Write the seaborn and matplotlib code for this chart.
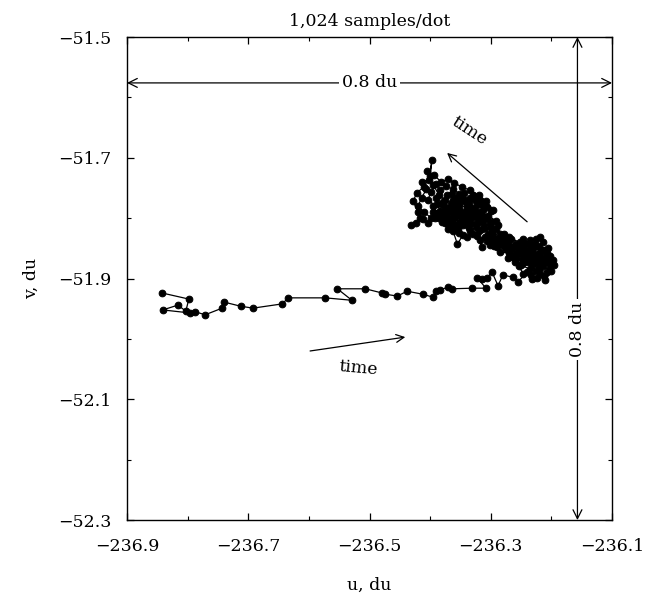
import matplotlib
matplotlib.use("Agg")
import matplotlib.pyplot as plt
import seaborn as sns
import pandas as pd
import numpy as np
from matplotlib.ticker import MultipleLocator, FuncFormatter

# ---- data (du) ----
track_u = [-236.842, -236.798, -236.803, -236.816, -236.841, -236.796, -236.788, -236.771,
           -236.743, -236.740, -236.712, -236.692, -236.644, -236.634, -236.573, -236.529,
           -236.553, -236.507, -236.479, -236.474, -236.454, -236.438, -236.412, -236.395,
           -236.390, -236.384, -236.370, -236.364, -236.331, -236.308, -236.322, -236.314,
           -236.306, -236.298, -236.288, -236.280, -236.263]
track_v = [-51.924, -51.934, -51.954, -51.944, -51.952, -51.957, -51.955, -51.960,
           -51.949, -51.939, -51.946, -51.949, -51.942, -51.932, -51.932, -51.936,
           -51.917, -51.917, -51.924, -51.926, -51.929, -51.921, -51.926, -51.931,
           -51.921, -51.919, -51.914, -51.917, -51.916, -51.916, -51.899, -51.901,
           -51.899, -51.889, -51.912, -51.894, -51.898]

cluster_u = [-236.255, -236.240, -236.232, -236.218, -236.210, -236.200, -236.214, -236.225,
             -236.238, -236.222, -236.205, -236.196, -236.203, -236.218, -236.232, -236.248,
             -236.240, -236.228, -236.214, -236.225, -236.240, -236.255, -236.262, -236.250,
             -236.236, -236.215, -236.208, -236.222, -236.244, -236.258, -236.246, -236.232,
             -236.219, -236.236, -236.252, -236.266, -236.272, -236.260,
             -236.300, -236.290, -236.280, -236.272, -236.262, -236.252, -236.266, -236.278,
             -236.286, -236.296, -236.306, -236.294, -236.284, -236.270, -236.258, -236.246,
             -236.232, -236.220, -236.208, -236.202, -236.212, -236.226, -236.238, -236.228,
             -236.216, -236.204, -236.214, -236.226, -236.236, -236.248, -236.242, -236.254,
             -236.246, -236.234, -236.224, -236.212, -236.198, -236.206, -236.220, -236.232,
             -236.244, -236.256, -236.268, -236.280, -236.292,
             -236.275, -236.282, -236.270, -236.285, -236.296, -236.290, -236.302, -236.310,
             -236.298, -236.288, -236.300, -236.314, -236.322, -236.314, -236.318, -236.305,
             -236.292, -236.278,
             -236.310, -236.322, -236.334, -236.346, -236.338, -236.326, -236.312, -236.300,
             -236.308, -236.322, -236.336, -236.350, -236.360, -236.352, -236.342, -236.330,
             -236.318, -236.330, -236.344, -236.356, -236.366, -236.356, -236.344, -236.336,
             -236.326, -236.340, -236.354, -236.346, -236.355, -236.362, -236.370, -236.362,
             -236.374, -236.368, -236.378, -236.372, -236.362, -236.352, -236.340, -236.328,
             -236.316, -236.306, -236.318, -236.332, -236.348, -236.358, -236.372, -236.384,
             -236.380, -236.390, -236.384, -236.374, -236.390, -236.398, -236.404,
             -236.345, -236.335, -236.324, -236.312, -236.300, -236.292, -236.304, -236.296,
             -236.308, -236.320, -236.334, -236.348, -236.360, -236.370, -236.382, -236.394,
             -236.405, -236.395, -236.385, -236.376, -236.364, -236.354, -236.340, -236.350,
             -236.364, -236.376, -236.388, -236.396, -236.386, -236.376, -236.364, -236.352,
             -236.340, -236.330, -236.320, -236.310, -236.302, -236.314, -236.326, -236.338,
             -236.332, -236.344, -236.356, -236.366, -236.378, -236.370, -236.358, -236.346,
             -236.334, -236.322, -236.312, -236.324, -236.336, -236.350, -236.362,
             -236.396, -236.388, -236.398, -236.410, -236.420, -236.414, -236.406, -236.414,
             -236.402, -236.397, -236.400, -236.410, -236.422, -236.428, -236.420, -236.412,
             -236.424, -236.432, -236.416, -236.404, -236.392, -236.380, -236.370]
cluster_v = [-51.905, -51.890, -51.900, -51.893, -51.902, -51.888, -51.880, -51.887,
             -51.872, -51.866, -51.872, -51.878, -51.863, -51.857, -51.862, -51.868,
             -51.855, -51.848, -51.840, -51.834, -51.843, -51.850, -51.862, -51.878,
             -51.884, -51.870, -51.858, -51.876, -51.860, -51.842, -51.835, -51.845,
             -51.832, -51.852, -51.858, -51.852, -51.866, -51.873,
             -51.830, -51.836, -51.844, -51.840, -51.846, -51.840, -51.834, -51.826,
             -51.834, -51.828, -51.838, -51.846, -51.856, -51.858, -51.866, -51.874,
             -51.878, -51.884, -51.890, -51.880, -51.866, -51.860, -51.864, -51.872,
             -51.877, -51.868, -51.852, -51.844, -51.836, -51.846, -51.868, -51.880,
             -51.892, -51.894, -51.899, -51.896, -51.870, -51.850, -51.848, -51.856,
             -51.852, -51.858, -51.848, -51.838, -51.842,
             -51.850, -51.840, -51.832, -51.826, -51.838, -51.848, -51.844, -51.832,
             -51.822, -51.812, -51.806, -51.818, -51.830, -51.848, -51.836, -51.826,
             -51.818, -51.836,
             -51.800, -51.790, -51.800, -51.790, -51.778, -51.770, -51.778, -51.788,
             -51.798, -51.808, -51.816, -51.808, -51.798, -51.782, -51.770, -51.762,
             -51.770, -51.784, -51.796, -51.788, -51.776, -51.766, -51.758, -51.790,
             -51.798, -51.806, -51.818, -51.828, -51.843, -51.822, -51.810, -51.800,
             -51.792, -51.784, -51.774, -51.762, -51.752, -51.760, -51.776, -51.786,
             -51.790, -51.782, -51.800, -51.794, -51.800, -51.810, -51.800, -51.788,
             -51.776, -51.766, -51.754, -51.746, -51.744, -51.756, -51.770,
             -51.812, -51.822, -51.815, -51.808, -51.815, -51.804, -51.796, -51.786,
             -51.772, -51.762, -51.754, -51.748, -51.742, -51.735, -51.740, -51.728,
             -51.722, -51.745, -51.762, -51.770, -51.760, -51.774, -51.784, -51.794,
             -51.790, -51.782, -51.776, -51.790, -51.800, -51.808, -51.815, -51.824,
             -51.832, -51.826, -51.822, -51.816, -51.808, -51.796, -51.790, -51.798,
             -51.808, -51.802, -51.796, -51.804, -51.796, -51.788, -51.780, -51.772,
             -51.766, -51.778, -51.786, -51.794, -51.776, -51.764, -51.770,
             -51.780, -51.792, -51.800, -51.790, -51.780, -51.766, -51.752, -51.740,
             -51.736, -51.704, -51.730, -51.748, -51.758, -51.772, -51.790, -51.802,
             -51.808, -51.812, -51.800, -51.808, -51.800, -51.806, -51.818]

x_ticks = [-236.9, -236.7, -236.5, -236.3, -236.1]
y_ticks = [-52.3, -52.1, -51.9, -51.7, -51.5]
title_text = "1,024 samples/dot"
x_label = "u, du"
y_label = "v, du"
scale_text = "0.8 du"
time_text = "time"

df = pd.DataFrame({"u": track_u + cluster_u, "v": track_v + cluster_v,
                   "step": np.arange(len(track_u) + len(cluster_u))})

sns.set_style("ticks")
plt.rcParams["font.family"] = ["DejaVu Serif"]
plt.rcParams["mathtext.fontset"] = "dejavuserif"
for key in ["text.color", "axes.labelcolor", "xtick.color", "ytick.color", "axes.edgecolor"]:
    plt.rcParams[key] = "black"

fig = plt.figure(figsize=(6.49, 6.04), dpi=100)
ax = fig.add_axes([0.1957, 0.139, 0.7473, 0.7997])

sns.lineplot(data=df, x="u", y="v", sort=False, estimator=None, ax=ax,
             color="black", linewidth=0.9, marker="o", markersize=4.8,
             markeredgecolor="black", markerfacecolor="black", zorder=3)

ax.set_xlim(-236.9, -236.1)
ax.set_ylim(-52.3, -51.5)
ax.set_xticks(x_ticks)
ax.set_yticks(y_ticks)
ax.xaxis.set_minor_locator(MultipleLocator(0.1))
ax.yaxis.set_minor_locator(MultipleLocator(0.1))
fmt = FuncFormatter(lambda val, pos: f"{val:.1f}".replace("-", "\u2212"))
ax.xaxis.set_major_formatter(fmt)
ax.yaxis.set_major_formatter(fmt)
ax.tick_params(which="both", direction="in", top=True, right=True, color="black")
ax.tick_params(which="major", length=5, width=0.9, labelsize=12.5, pad=13)
ax.tick_params(axis="y", which="major", pad=11)
ax.tick_params(which="minor", length=3, width=0.8)
for s in ax.spines.values():
    s.set_linewidth(1.0)
    s.set_color("black")

ax.set_xlabel(x_label, fontsize=12.5, labelpad=16)
ax.set_ylabel(y_label, fontsize=12.5, labelpad=13)
ax.set_title(title_text, fontsize=12.5, pad=8)

arrow_kw = dict(arrowstyle="<->", color="black", lw=0.9, mutation_scale=16, shrinkA=0, shrinkB=0)
# horizontal 0.8 du scale
ax.annotate("", xy=(-236.1, -51.576), xytext=(-236.9, -51.576), arrowprops=arrow_kw, zorder=2)
ax.text(-236.5, -51.576, scale_text, ha="center", va="center", fontsize=12.5,
        bbox=dict(facecolor="white", edgecolor="none", pad=2), zorder=4)
# vertical 0.8 du scale
ax.annotate("", xy=(-236.157, -51.5), xytext=(-236.157, -52.3), arrowprops=arrow_kw, zorder=2)
ax.text(-236.157, -51.985, scale_text, ha="center", va="center", rotation=90, fontsize=12.5,
        bbox=dict(facecolor="white", edgecolor="none", pad=2), zorder=4)

one_kw = dict(arrowstyle="->", color="black", lw=0.9, mutation_scale=14, shrinkA=0, shrinkB=0)
ax.annotate("", xy=(-236.441, -51.997), xytext=(-236.598, -52.020), arrowprops=one_kw)
ax.text(-236.519, -52.048, time_text, ha="center", va="center", rotation=-5, fontsize=12.5)
ax.annotate("", xy=(-236.372, -51.692), xytext=(-236.240, -51.806), arrowprops=one_kw)
ax.text(-236.335, -51.655, time_text, ha="center", va="center", rotation=-33, fontsize=12.5)

fig.savefig("out.png", dpi=100)
